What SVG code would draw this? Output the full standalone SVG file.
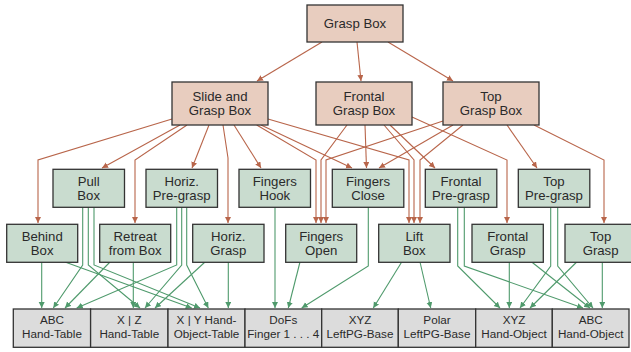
<svg xmlns="http://www.w3.org/2000/svg" width="631" height="352" viewBox="0 0 631 352">
  <style>
    .box rect { stroke: #333; stroke-width: 1.3; }
    .task rect { fill: #e8cdbf; }
    .prim rect { fill: #c9dccf; }
    .ctrl rect { fill: #dcdcdc; }
    text { font-family: "Liberation Sans", Arial, sans-serif; font-size: 13.2px; fill: #2a2a2a; text-anchor: middle; }
    .ctrl text { font-size: 11.7px; }
    .brown path { fill: none; stroke: #b8654a; stroke-width: 1.1; marker-end: url(#ab); }
    .green path { fill: none; stroke: #4f9a6c; stroke-width: 1.1; marker-end: url(#ag); }
  </style>
  <defs>
    <marker id="ab" markerUnits="userSpaceOnUse" markerWidth="8" markerHeight="8" refX="6" refY="3" orient="auto">
      <path d="M0,0 L6,3 L0,6 Z" fill="#b8654a"/>
    </marker>
    <marker id="ag" markerUnits="userSpaceOnUse" markerWidth="8" markerHeight="8" refX="6" refY="3" orient="auto">
      <path d="M0,0 L6,3 L0,6 Z" fill="#4f9a6c"/>
    </marker>
  </defs>

  <rect width="631" height="352" fill="#fff"/>

  <!-- connectors -->
  <g id="connectors">
    <g class="brown">
      <path d="M322,42 L257,81"/>
      <path d="M357,42 L361,81"/>
      <path d="M388,42 L453,81"/>
      <!-- Slide and Grasp Box -->
      <path d="M172,119 L38,160 V223"/>
      <path d="M180,125 L102,168"/>
      <path d="M187,125 L135,160 V223"/>
      <path d="M209,125 L192,168"/>
      <path d="M223,125 L228,158 V223"/>
      <path d="M234,125 L261,168"/>
      <path d="M256.7,125 L316,160 V223"/>
      <path d="M261,125 L352,168"/>
      <path d="M268,119 L409,160 V223"/>
      <!-- Frontal Grasp Box -->
      <path d="M347,125 L321,160 V223"/>
      <path d="M365,125 L366.5,168"/>
      <path d="M384,125 L414,160 V223"/>
      <path d="M390,125 L435,168"/>
      <path d="M412,117 L507,160 V223"/>
      <!-- Top Grasp Box -->
      <path d="M443,121 L326,160 V223"/>
      <path d="M453,125 L379,168"/>
      <path d="M463,125 L420,160 V223"/>
      <path d="M507,125 L537,168"/>
      <path d="M534,125 L604,160 V223"/>
    </g>
    <g class="green">
      <path d="M41.7,262 V308"/>
      <path d="M65,262 L191.7,308"/>
      <path d="M82.7,207 V265 L53.3,308"/>
      <path d="M88.3,207 V265 L140,308"/>
      <path d="M94,207 V265 L200,308"/>
      <path d="M133.3,262 V308"/>
      <path d="M110,262 L65,308"/>
      <path d="M176.7,207 V265 L76.7,308"/>
      <path d="M181.7,207 V265 L145,308"/>
      <path d="M186.7,207 V265 L208.3,308"/>
      <path d="M228.3,262 V308"/>
      <path d="M205,262 L155,308"/>
      <path d="M275,207 V308"/>
      <path d="M300,262 L288.3,308"/>
      <path d="M368.3,207 V266 L301.7,308"/>
      <path d="M401.7,262 L373.3,308"/>
      <path d="M420,262 L430.7,308"/>
      <path d="M457.7,207 V266 L500,308"/>
      <path d="M464.3,207 V266 L583,308"/>
      <path d="M509.3,262 V308"/>
      <path d="M531.7,262 L590,308"/>
      <path d="M550.7,207 V266 L520,308"/>
      <path d="M557.7,207 V266 L593,308"/>
      <path d="M576.7,262 L530,308"/>
      <path d="M602.3,262 V308"/>
    </g>
  </g>

  <!-- task level -->
  <g id="grasp-box" class="box task"><rect x="307" y="5" width="96" height="37"/><text x="355" y="28">Grasp Box</text></g>
  <g id="slide-grasp-box" class="box task"><rect x="172" y="82" width="96" height="43"/><text x="220" y="100.7">Slide and</text><text x="220" y="115">Grasp Box</text></g>
  <g id="frontal-grasp-box" class="box task"><rect x="316" y="82" width="96" height="43"/><text x="364" y="100.7">Frontal</text><text x="364" y="115">Grasp Box</text></g>
  <g id="top-grasp-box" class="box task"><rect x="443" y="82" width="96" height="43"/><text x="491" y="100.7">Top</text><text x="491" y="115">Grasp Box</text></g>

  <!-- primitives, upper row -->
  <g id="pull-box" class="box prim"><rect x="53" y="169.3" width="71.5" height="38"/><text x="88.7" y="185.7">Pull</text><text x="88.7" y="200">Box</text></g>
  <g id="horiz-pregrasp" class="box prim"><rect x="146" y="169.3" width="71.5" height="38"/><text x="181.7" y="185.7">Horiz.</text><text x="181.7" y="200">Pre-grasp</text></g>
  <g id="fingers-hook" class="box prim"><rect x="239" y="169.3" width="71.5" height="38"/><text x="274.8" y="185.7">Fingers</text><text x="274.8" y="200">Hook</text></g>
  <g id="fingers-close" class="box prim"><rect x="332.3" y="169.3" width="71.5" height="38"/><text x="368" y="185.7">Fingers</text><text x="368" y="200">Close</text></g>
  <g id="frontal-pregrasp" class="box prim"><rect x="425.3" y="169.3" width="71.5" height="38"/><text x="461" y="185.7">Frontal</text><text x="461" y="200">Pre-grasp</text></g>
  <g id="top-pregrasp" class="box prim"><rect x="518.3" y="169.3" width="71.5" height="38"/><text x="554" y="185.7">Top</text><text x="554" y="200">Pre-grasp</text></g>

  <!-- primitives, lower row -->
  <g id="behind-box" class="box prim"><rect x="6.7" y="224.3" width="71" height="38"/><text x="42.2" y="240.7">Behind</text><text x="42.2" y="255">Box</text></g>
  <g id="retreat-box" class="box prim"><rect x="99.7" y="224.3" width="71" height="38"/><text x="135.2" y="240.7">Retreat</text><text x="135.2" y="255">from Box</text></g>
  <g id="horiz-grasp" class="box prim"><rect x="192.7" y="224.3" width="71.3" height="38"/><text x="228.3" y="240.7">Horiz.</text><text x="228.3" y="255">Grasp</text></g>
  <g id="fingers-open" class="box prim"><rect x="285.7" y="224.3" width="71" height="38"/><text x="321.2" y="240.7">Fingers</text><text x="321.2" y="255">Open</text></g>
  <g id="lift-box" class="box prim"><rect x="378.7" y="224.3" width="71.3" height="38"/><text x="414.3" y="240.7">Lift</text><text x="414.3" y="255">Box</text></g>
  <g id="frontal-grasp" class="box prim"><rect x="472" y="224.3" width="71.3" height="38"/><text x="507.7" y="240.7">Frontal</text><text x="507.7" y="255">Grasp</text></g>
  <g id="top-grasp" class="box prim"><rect x="565" y="224.3" width="71.3" height="38"/><text x="600.6" y="240.7">Top</text><text x="600.6" y="255">Grasp</text></g>

  <!-- controllers -->
  <g id="abc-hand-table" class="box ctrl"><rect x="13.3" y="309" width="77.3" height="38.3"/><text x="52" y="324">ABC</text><text x="52" y="338.3">Hand-Table</text></g>
  <g id="xz-hand-table" class="box ctrl"><rect x="90.6" y="309" width="77.4" height="38.3"/><text x="129.3" y="324">X | Z</text><text x="129.3" y="338.3">Hand-Table</text></g>
  <g id="xy-hand-object-table" class="box ctrl"><rect x="168" y="309" width="77" height="38.3"/><text x="206.5" y="324">X | Y Hand-</text><text x="206.5" y="338.3">Object-Table</text></g>
  <g id="dofs-finger" class="box ctrl"><rect x="245" y="309" width="76.7" height="38.3"/><text x="283.3" y="324">DoFs</text><text x="283.3" y="338.3">Finger 1 . . . 4</text></g>
  <g id="xyz-leftpg-base" class="box ctrl"><rect x="321.7" y="309" width="76.6" height="38.3"/><text x="360" y="324">XYZ</text><text x="360" y="338.3">LeftPG-Base</text></g>
  <g id="polar-leftpg-base" class="box ctrl"><rect x="398.3" y="309" width="77.4" height="38.3"/><text x="437" y="324">Polar</text><text x="437" y="338.3">LeftPG-Base</text></g>
  <g id="xyz-hand-object" class="box ctrl"><rect x="475.7" y="309" width="76.6" height="38.3"/><text x="514" y="324">XYZ</text><text x="514" y="338.3">Hand-Object</text></g>
  <g id="abc-hand-object" class="box ctrl"><rect x="552.3" y="309" width="76.7" height="38.3"/><text x="590.7" y="324">ABC</text><text x="590.7" y="338.3">Hand-Object</text></g>
</svg>
